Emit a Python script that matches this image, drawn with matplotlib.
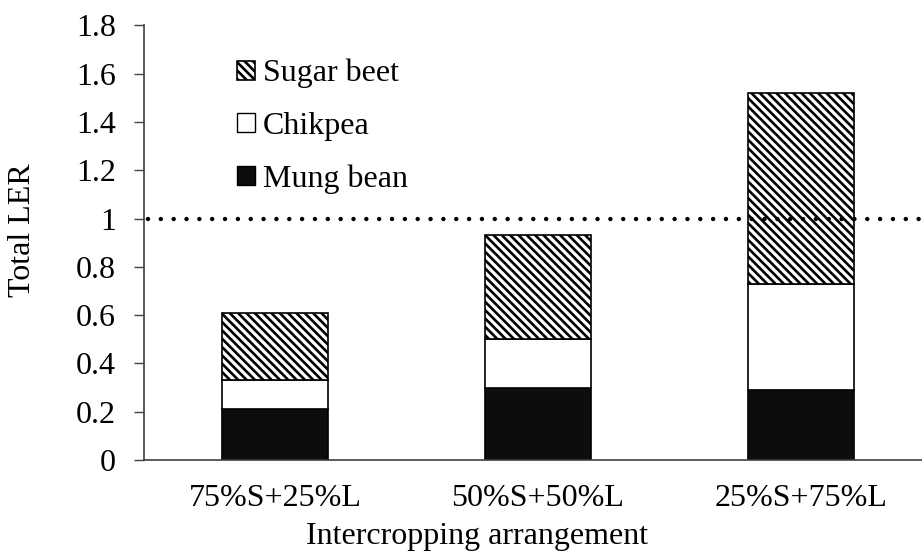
import matplotlib
matplotlib.use("Agg")
import matplotlib.pyplot as plt
from matplotlib.patches import Patch

categories = ["75%S+25%L", "50%S+50%L", "25%S+75%L"]
mung_bean = [0.21, 0.30, 0.29]
chickpea = [0.12, 0.20, 0.44]
sugar_beet = [0.28, 0.43, 0.79]
yticks = [0, 0.2, 0.4, 0.6, 0.8, 1, 1.2, 1.4, 1.6, 1.8]
ytick_labels = ["0", "0.2", "0.4", "0.6", "0.8", "1", "1.2", "1.4", "1.6", "1.8"]

plt.rcParams['font.family'] = ['Liberation Serif', 'DejaVu Serif']
plt.rcParams['hatch.linewidth'] = 1.9
plt.rcParams['hatch.color'] = 'black'

FS = 23
W, H = 922, 553
fig = plt.figure(figsize=(W / 100, H / 100), dpi=100)
ax = fig.add_axes([143.5 / W, (H - 460) / H, 789 / W, 434.7 / H])

x = list(range(len(categories)))
width = 0.405
bottom2 = [m + c for m, c in zip(mung_bean, chickpea)]
ax.bar(x, mung_bean, width, color='#0d0d0d', edgecolor='black', linewidth=1.2, zorder=2)
ax.bar(x, chickpea, width, bottom=mung_bean, color='white', edgecolor='black', linewidth=1.2, zorder=2)
ax.bar(x, sugar_beet, width, bottom=bottom2, color='white', edgecolor='black', linewidth=1.2,
       hatch='\\\\\\\\', zorder=2)

ax.axhline(1, color='black', linewidth=3.2, linestyle=(2, (0.01, 2.88)),
           dash_capstyle='round', zorder=3)

ax.set_xlim(-0.5, 2.5)
ax.set_ylim(0, 1.8)
ax.set_yticks(yticks)
ax.set_yticklabels(ytick_labels)
ax.set_xticks(x)
ax.set_xticklabels(categories)
ax.tick_params(axis='y', direction='out', length=7, width=1, color='#404040', labelsize=FS, pad=13)
ax.tick_params(axis='x', length=0, labelsize=FS, pad=17.5)
for s in ['top', 'right']:
    ax.spines[s].set_visible(False)
for s in ['left', 'bottom']:
    ax.spines[s].set_color('#404040')
    ax.spines[s].set_linewidth(1.2)

ax.set_ylabel("Total LER", fontsize=FS)
ax.yaxis.set_label_coords((37 - 143.5) / 789, (460 - 230) / 434.7)
ax.set_xlabel("Intercropping arrangement", fontsize=FS)
ax.xaxis.set_label_coords((477 - 143.5) / 789, -(522 - 460) / 434.7)

handles = [
    Patch(facecolor='white', edgecolor='black', hatch='\\\\\\\\', linewidth=1.2, label='Sugar beet'),
    Patch(facecolor='white', edgecolor='black', linewidth=1.0, label='Chikpea'),
    Patch(facecolor='#0d0d0d', edgecolor='black', linewidth=1.0, label='Mung bean'),
]
leg = ax.legend(handles=handles, loc='upper left', bbox_to_anchor=(237 / W, 1 - 59 / H),
                bbox_transform=fig.transFigure, frameon=False, fontsize=FS,
                handlelength=0.55, handleheight=0.55, handletextpad=0.25,
                labelspacing=0.73, borderpad=0, borderaxespad=0)

fig.savefig("out.png", dpi=100)
